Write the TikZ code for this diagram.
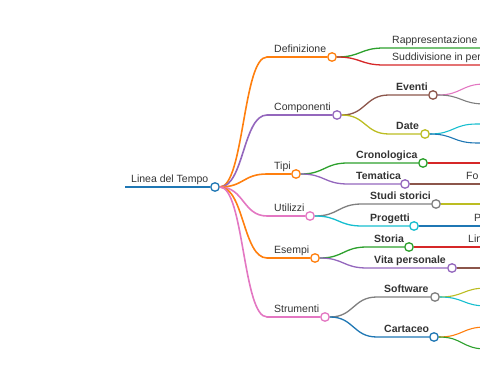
\documentclass[tikz,border=0pt]{standalone}
\usepackage{fontspec}
\setmainfont{Liberation Sans}
\definecolor{cBlue}{HTML}{1F77B4}
\definecolor{cOrange}{HTML}{FF7F0E}
\definecolor{cGreen}{HTML}{2CA02C}
\definecolor{cRed}{HTML}{D62728}
\definecolor{cPurple}{HTML}{9467BD}
\definecolor{cBrown}{HTML}{8C564B}
\definecolor{cPink}{HTML}{E377C2}
\definecolor{cGray}{HTML}{7F7F7F}
\definecolor{cOlive}{HTML}{BCBD22}
\definecolor{cCyan}{HTML}{17BECF}
\definecolor{txt}{HTML}{333333}
\tikzset{
  dot/.style={circle, draw=#1, fill=white, line width=1.3pt, minimum size=8.5pt, inner sep=0pt},
  lbl/.style={anchor=base west, inner sep=0pt, text=txt, font=\fontsize{10.5}{12}\selectfont},
  blbl/.style={anchor=base west, inner sep=0pt, text=txt, font=\fontsize{10.5}{12}\selectfont\bfseries},
  eA/.style={draw=#1, line width=1.6pt},
  eB/.style={draw=#1, line width=1.3pt},
  eC/.style={draw=#1, line width=1.1pt},
}
\newcommand\linkto[4]{\draw[#4] (#1.east) .. controls +(24,0) and +(-24,0) .. (#2) -- (#3.west);}
\newcommand\linkleaf[4]{\draw[#4] (#1.east) .. controls +(24,0) and +(-24,0) .. (#2) -- (#3);}
\newcommand\linkcut[3]{\draw[#3] (#1.east) .. controls +(24,0) and +(-24,0) .. (#2);}
\begin{document}
\begin{tikzpicture}[x=1pt,y=-1pt]
\useasboundingbox (0,0) rectangle (480,379);
\clip (0,0) rectangle (480,379);
% root
\node[dot=cBlue] (root) at (215,187) {};
\coordinate (rootL) at (125,187);
\node[lbl] (root-t) at (131,182.5) {Linea del Tempo};
\draw[eA=cBlue] (rootL) -- (root.west);
% level 1
\node[dot=cOrange] (def) at (332,57) {};
\coordinate (def-s) at (267,57);
\node[lbl] (def-t) at (274,52.5) {Definizione};
\node[dot=cPurple] (comp) at (337,115) {};
\coordinate (comp-s) at (267,115);
\node[lbl] (comp-t) at (274,110.5) {Componenti};
\node[dot=cOrange] (tipi) at (296,174) {};
\coordinate (tipi-s) at (267,174);
\node[lbl] (tipi-t) at (274,169.5) {Tipi};
\node[dot=cPink] (util) at (310,216) {};
\coordinate (util-s) at (267,216);
\node[lbl] (util-t) at (274,211.5) {Utilizzi};
\node[dot=cOrange] (esem) at (315,258) {};
\coordinate (esem-s) at (267,258);
\node[lbl] (esem-t) at (274,253.5) {Esempi};
\node[dot=cPink] (stru) at (325,317) {};
\coordinate (stru-s) at (267,317);
\node[lbl] (stru-t) at (274,312.5) {Strumenti};
\linkto{root}{def-s}{def}{eA=cOrange}
\linkto{root}{comp-s}{comp}{eA=cPurple}
\linkto{root}{tipi-s}{tipi}{eA=cOrange}
\linkto{root}{util-s}{util}{eA=cPink}
\linkto{root}{esem-s}{esem}{eA=cOrange}
\linkto{root}{stru-s}{stru}{eA=cPink}
% level 2
\coordinate (rap-s) at (384,48);
\coordinate (rap-e) at (490,48);
\node[lbl] (rap-t) at (392,43.5) {Rappresentazione};
\coordinate (sud-s) at (384,65);
\coordinate (sud-e) at (490,65);
\node[lbl] (sud-t) at (392,60.5) {Suddivisione in per};
\linkleaf{def}{rap-s}{rap-e}{eB=cGreen}
\linkleaf{def}{sud-s}{sud-e}{eB=cRed}

\node[dot=cBrown] (ev) at (433,95) {};
\coordinate (ev-s) at (389,95);
\node[blbl] (ev-t) at (396,90.5) {Eventi};
\node[dot=cOlive] (date) at (425,134) {};
\coordinate (date-s) at (389,134);
\node[blbl] (date-t) at (396,129.5) {Date};
\linkto{comp}{ev-s}{ev}{eB=cBrown}
\linkto{comp}{date-s}{date}{eB=cOlive}

\node[dot=cGreen] (cron) at (423,163) {};
\coordinate (cron-s) at (348,163);
\node[blbl] (cron-t) at (356,158.5) {Cronologica};
\node[dot=cPurple] (tem) at (405,184) {};
\coordinate (tem-s) at (348,184);
\node[blbl] (tem-t) at (356,179.5) {Tematica};
\linkto{tipi}{cron-s}{cron}{eB=cGreen}
\linkto{tipi}{tem-s}{tem}{eB=cPurple}

\node[dot=cGray] (stud) at (436,204) {};
\coordinate (stud-s) at (362,204);
\node[blbl] (stud-t) at (370,199.5) {Studi storici};
\node[dot=cCyan] (prog) at (414,226) {};
\coordinate (prog-s) at (362,226);
\node[blbl] (prog-t) at (370,221.5) {Progetti};
\linkto{util}{stud-s}{stud}{eB=cGray}
\linkto{util}{prog-s}{prog}{eB=cCyan}

\node[dot=cGreen] (stor) at (409,247) {};
\coordinate (stor-s) at (367,247);
\node[blbl] (stor-t) at (374,242.5) {Storia};
\node[dot=cPurple] (vita) at (452,268) {};
\coordinate (vita-s) at (367,268);
\node[blbl] (vita-t) at (374,263.5) {Vita personale};
\linkto{esem}{stor-s}{stor}{eB=cGreen}
\linkto{esem}{vita-s}{vita}{eB=cPurple}

\node[dot=cGray] (soft) at (435,297) {};
\coordinate (soft-s) at (377,297);
\node[blbl] (soft-t) at (384,292.5) {Software};
\node[dot=cBlue] (cart) at (434,337) {};
\coordinate (cart-s) at (377,337);
\node[blbl] (cart-t) at (384,332.5) {Cartaceo};
\linkto{stru}{soft-s}{soft}{eB=cGray}
\linkto{stru}{cart-s}{cart}{eB=cBlue}
% level 3
\coordinate (evA) at (485,84);
\coordinate (evB) at (485,104);
\linkcut{ev}{evA}{eC=cPink}
\linkcut{ev}{evB}{eC=cGray}
\coordinate (dA-s) at (477,124);
\coordinate (dA-e) at (490,124);
\coordinate (dB-s) at (477,143);
\coordinate (dB-e) at (490,143);
\linkleaf{date}{dA-s}{dA-e}{eC=cCyan}
\linkleaf{date}{dB-s}{dB-e}{eC=cBlue}
\coordinate (cronA-s) at (475,163);
\coordinate (cronA-e) at (490,163);
\linkleaf{cron}{cronA-s}{cronA-e}{eC=cRed}
\coordinate (temA-s) at (457,184);
\coordinate (temA-e) at (490,184);
\node[lbl] (temA-t) at (466,179.5) {Fo};
\linkleaf{tem}{temA-s}{temA-e}{eC=cBrown}
\coordinate (studA) at (488,204);
\linkcut{stud}{studA}{eC=cOlive}
\coordinate (progA-s) at (466,226);
\coordinate (progA-e) at (490,226);
\node[lbl] (progA-t) at (474,221.5) {P};
\linkleaf{prog}{progA-s}{progA-e}{eC=cBlue}
\coordinate (storA-s) at (461,247);
\coordinate (storA-e) at (490,247);
\node[lbl] (storA-t) at (468,242.5) {Lin};
\linkleaf{stor}{storA-s}{storA-e}{eC=cRed}
\coordinate (vitaA) at (504,268);
\linkcut{vita}{vitaA}{eC=cBrown}
\coordinate (sA) at (487,288);
\coordinate (sB) at (487,306);
\linkcut{soft}{sA}{eC=cOlive}
\linkcut{soft}{sB}{eC=cCyan}
\coordinate (cA) at (486,327);
\coordinate (cB) at (486,349);
\linkcut{cart}{cA}{eC=cOrange}
\linkcut{cart}{cB}{eC=cGreen}
\end{tikzpicture}
\end{document}
